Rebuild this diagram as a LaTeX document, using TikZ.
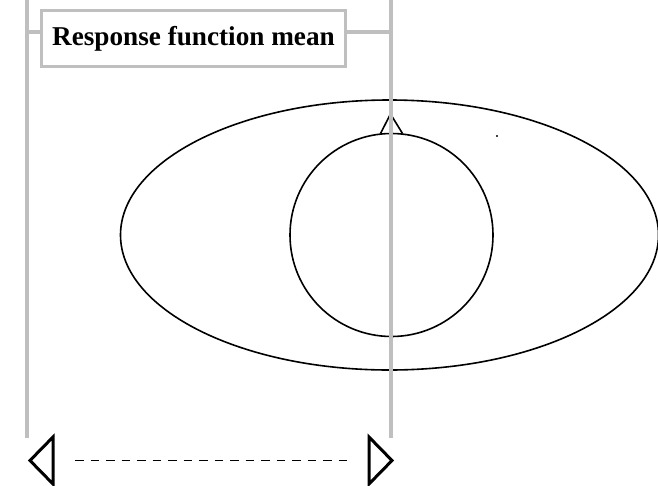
\documentclass[tikz,border=0pt]{standalone}
\usepackage{fontspec}
\setmainfont{Liberation Serif}
\usetikzlibrary{shapes.geometric}
\begin{document}
\begin{tikzpicture}[x=1pt,y=-1pt,
  guide/.style={draw=black!25,line width=3.4pt},
  outline/.style={draw=black,line width=1.6pt},
  tipline/.style={draw=black,line width=3pt,line join=miter},
  labelbox/.style={draw=black!25,line width=3.4pt,fill=white,minimum width=304pt,minimum height=56.5pt,inner sep=0pt,font=\fontsize{27.2}{30}\selectfont\bfseries}]
\useasboundingbox (0,0) rectangle (658,485);
% ellipses
\node[outline,ellipse,minimum width=538pt,minimum height=270pt,inner sep=0pt] (outer) at (389.5,235) {};
\node[outline,circle,minimum size=203pt,inner sep=0pt] (inner) at (391.5,235) {};
\draw[outline,line join=miter] (380.5,133.5) -- (390.5,114) -- (402.5,133.5);
\fill (497,136) circle (1.1pt);
% guides
\coordinate (lt) at (27,0);
\coordinate (lb) at (27,438);
\coordinate (rt) at (391,0);
\coordinate (rb) at (391,438);
\draw[guide] (lt) -- (lb);
\draw[guide] (rt) -- (rb);
\node[labelbox] (lab) at (193.5,38.5) {Response function mean};
\coordinate (cl) at (27,32);
\coordinate (cr) at (391,32);
\draw[guide] (cl) -- (cl -| lab.west);
\draw[guide] (cr) -- (cr -| lab.east);
% bottom arrows
\draw[tipline] (53,437) -- (30,460.5) -- (53,484) -- cycle;
\draw[tipline] (369,437) -- (392,460.5) -- (369,484) -- cycle;
\coordinate (da) at (75,460.5);
\coordinate (db) at (347,460.5);
\draw[black,line width=1.3pt,dash pattern=on 8.5pt off 7pt] (da) -- (db);
\end{tikzpicture}
\end{document}
